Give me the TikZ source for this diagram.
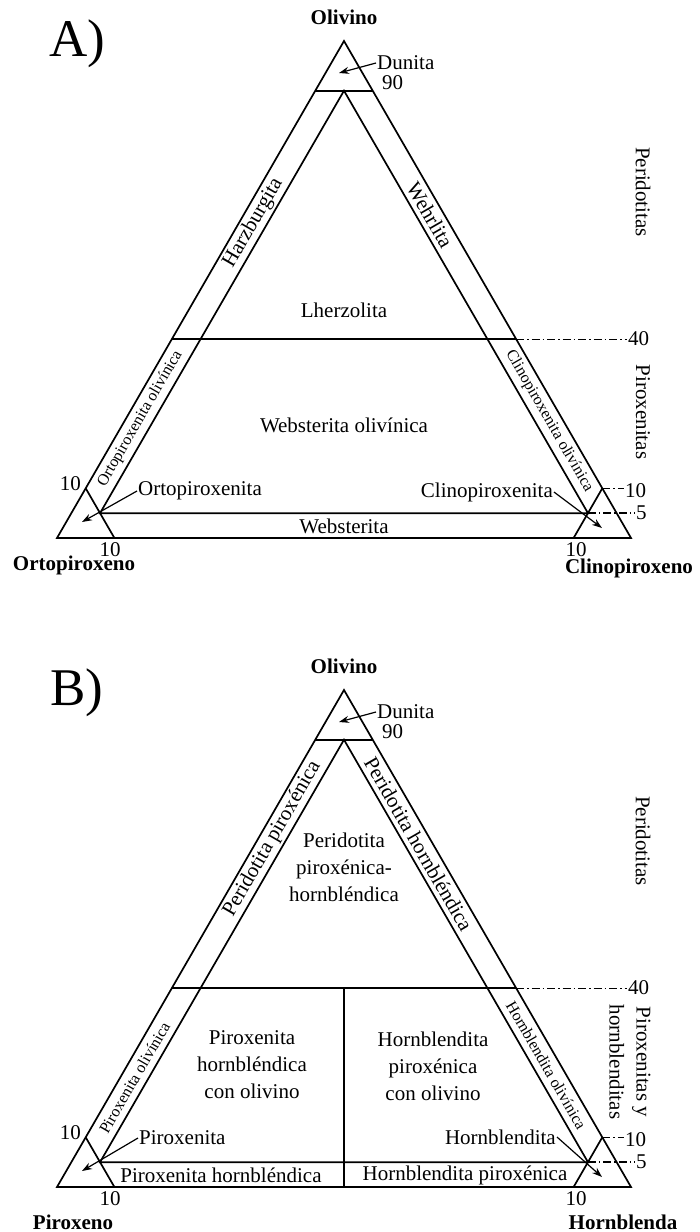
\documentclass[tikz,border=0pt]{standalone}
\usepackage{fontspec}
\setmainfont{Liberation Serif}
\usetikzlibrary{arrows.meta}

\begin{document}
\begin{tikzpicture}[x=1pt, y=-1pt,
        edge/.style={line width=1.7pt, line join=miter},
        dashdot/.style={line width=1.4pt, dash pattern=on 8pt off 3pt on 1.5pt off 3pt},
        pointer/.style={-{Stealth[length=10pt,width=7pt]}, line width=1.2pt},
        lab/.style={font=\fontsize{21}{27}\selectfont, inner sep=1pt, align=center},
        small/.style={font=\fontsize{16}{18}\selectfont, inner sep=0pt},
        corner/.style={font=\fontsize{21}{25}\selectfont\bfseries, inner sep=0pt},
        panel/.style={font=\fontsize{53}{60}\selectfont, inner sep=0pt}]
    \useasboundingbox (0,0) rectangle (700,1232);

    \foreach \dy/\p/\l in {0/a/A, 649/b/B}{
        \begin{scope}[shift={(0,\dy)}]
            \coordinate (O) at (344,41);
            \coordinate (L) at (57,538);
            \coordinate (R) at (631,538);
            \coordinate (O\p) at (O);
            \coordinate (L\p) at (L);
            \coordinate (R\p) at (R);

            \draw[edge] (O) -- (L) -- (R) -- cycle;
            \draw[edge] (barycentric cs:O=.9,L=.1) -- (barycentric cs:O=.9,R=.1);
            \coordinate (m90) at (barycentric cs:O=.9,L=.05,R=.05);
            \coordinate (m5l) at (barycentric cs:O=.05,L=.9,R=.05);
            \coordinate (m5r) at (barycentric cs:O=.05,L=.05,R=.9);
            \draw[edge] (m5l) -- (m90) -- (m5r) -- cycle;
            \draw[edge] (barycentric cs:O=.4,L=.6) -- (barycentric cs:O=.4,R=.6) coordinate (r40);
            \draw[edge] (barycentric cs:O=.1,L=.9) -- (barycentric cs:L=.9,R=.1);
            \draw[edge] (barycentric cs:O=.1,R=.9) coordinate (r10) -- (barycentric cs:L=.1,R=.9);

            \coordinate (tipd\p) at (339,73);
            \coordinate (tipl\p) at (82,522);
            \coordinate (tipr\p) at (602,528);

            \node[panel, anchor=base] (pn\p) at (77,56) {\l)};
            \node[corner] (ol\p) at (344,17) {Olivino};
            \node[lab, anchor=west] (dun\p) at (376,63) {Dunita};
            \draw[pointer] (dun\p.west) -- (tipd\p);
            \node[lab, anchor=west] (n90\p) at (381,83) {90};

            \node[lab, anchor=west] (n40\p) at (627,339) {40};
            \draw[dashdot] (r40) -- (r40 -| n40\p.west);
            \node[lab, anchor=west] (n10\p) at (624,491) {10};
            \draw[dashdot] (r10) -- (r10 -| n10\p.west);
            \node[lab, anchor=west] (n5\p) at (635,513) {5};
            \draw[dashdot] (m5r) -- (m5r -| n5\p.west);

            \node[lab, anchor=east] (nl10\p) at (82,484) {10};
            \node[lab] (nb10\p) at (110,550) {10};
            \node[lab] (nc10\p) at (576,550) {10};
            \node[lab, rotate=-90] (per\p) at (643,192) {Peridotitas};
        \end{scope}
    }

    \node[lab] (lher) at (344,310) {Lherzolita};
    \node[lab] (wol) at (344,425) {Websterita olivínica};
    \node[lab] (web) at (344,526) {Websterita};
    \node[lab, rotate=60] (harz) at (barycentric cs:Oa=.634,La=.341,Ra=.025) {Harzburgita};
    \node[lab, rotate=-60] (wehr) at (barycentric cs:Oa=.65,Ra=.325,La=.025) {Wehrlita};
    \node[small, rotate=60] (opxol) at (barycentric cs:Oa=.24,La=.735,Ra=.025) {Ortopiroxenita olivínica};
    \node[small, rotate=-60] (cpxol) at (barycentric cs:Oa=.235,Ra=.74,La=.025) {Clinopiroxenita olivínica};
    \node[lab, anchor=west] (opxt) at (137,491) {Ortopiroxenita};
    \draw[pointer] (opxt.west) -- (tipla);
    \node[lab, anchor=east] (cpxt) at (554,492) {Clinopiroxenita};
    \draw[pointer] (cpxt.east) -- (tipra);
    \node[corner] (opx) at (74,565) {Ortopiroxeno};
    \node[corner] (cpx) at (629,568) {Clinopiroxeno};
    \node[lab, rotate=-90] (pxs) at (643,412) {Piroxenitas};

    \draw[edge] (barycentric cs:Ob=.4,Lb=.3,Rb=.3) -- (barycentric cs:Lb=.5,Rb=.5);
    \node[lab] (pph) at (344,867) {Peridotita\\piroxénica-\\hornbléndica};
    \node[lab, rotate=60] (perpx) at (barycentric cs:Ob=.7,Lb=.275,Rb=.025) {Peridotita piroxénica};
    \node[lab, rotate=-60] (perhb) at (barycentric cs:Ob=.69,Rb=.285,Lb=.025) {Peridotita hornbléndica};
    \node[lab] (pxhol) at (252,1065) {Piroxenita\\hornbléndica\\con olivino};
    \node[lab] (hbpol) at (433,1066) {Hornblendita\\piroxénica\\con olivino};
    \node[small, rotate=60] (pxol) at (barycentric cs:Ob=.22,Lb=.755,Rb=.025) {Piroxenita olivínica};
    \node[small, rotate=-60] (hbol) at (barycentric cs:Ob=.245,Rb=.73,Lb=.025) {Hornblendita olivínica};
    \node[lab, anchor=west] (pxt) at (138,1138) {Piroxenita};
    \draw[pointer] (pxt.west) -- (tiplb);
    \node[lab, anchor=east] (hbt) at (557,1137) {Hornblendita};
    \draw[pointer] (hbt.east) -- (tiprb);
    \node[lab] (pxh) at (221,1175) {Piroxenita hornbléndica};
    \node[lab] (hbp) at (465,1175) {Hornblendita piroxénica};
    \node[corner] (px) at (73,1222) {Piroxeno};
    \node[corner] (hb) at (623,1222) {Hornblenda};
    \node[lab, rotate=-90] (pxhbs) at (630,1062) {Piroxenitas y\\hornblenditas};
\end{tikzpicture}
\end{document}
